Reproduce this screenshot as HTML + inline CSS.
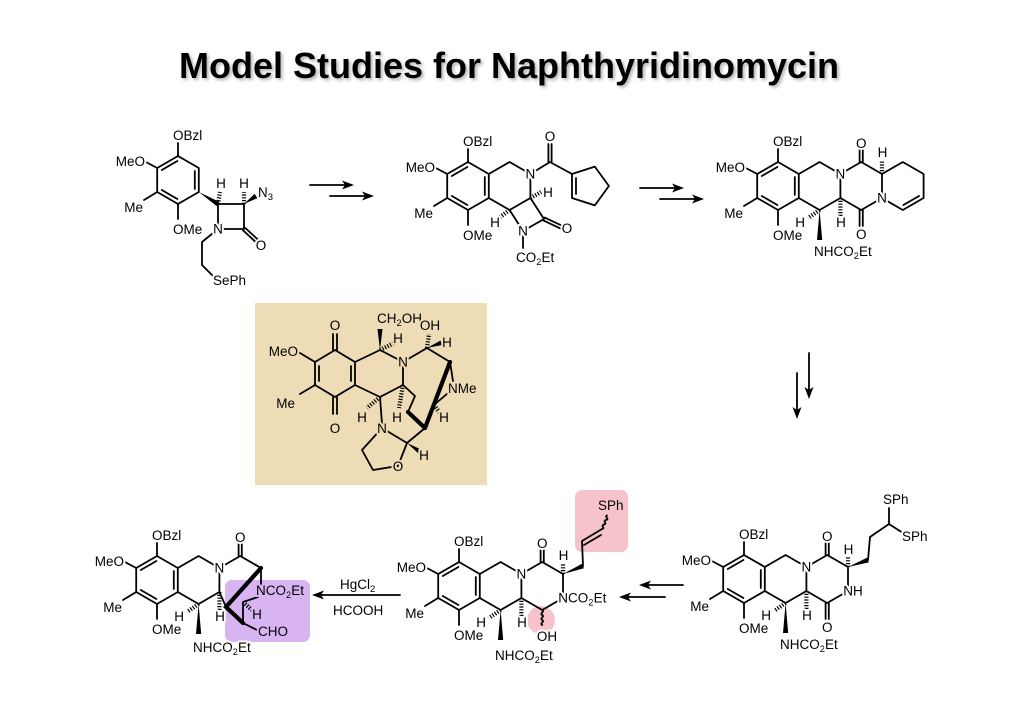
<!DOCTYPE html>
<html><head><meta charset="utf-8">
<style>
html,body{margin:0;padding:0;background:#fff;}
svg{display:block;}
.b{stroke:#000;stroke-width:1.8;fill:none;stroke-linecap:round;stroke-linejoin:round}
.k{stroke:#000;stroke-width:4.2;fill:none;stroke-linecap:round}
.h{stroke:#000;stroke-width:4.2;stroke-dasharray:1.2 1.6;fill:none}
.w{fill:#000;stroke:none}
text{font-family:"Liberation Sans",Arial,sans-serif;font-size:13.5px;fill:#000}
.t{stroke:#fff;stroke-width:4;paint-order:stroke;stroke-linejoin:round}
.tb{stroke:#eedcb6;stroke-width:4;paint-order:stroke;stroke-linejoin:round}
.tv{stroke:#d8b4f2;stroke-width:4;paint-order:stroke;stroke-linejoin:round}
.title{font-size:36px;font-weight:bold;}
</style></head>
<body>
<svg width="1024" height="724" viewBox="0 0 1024 724" xmlns="http://www.w3.org/2000/svg">
<defs>
<filter id="sh" x="-5%" y="-20%" width="110%" height="150%"><feDropShadow dx="2" dy="2" stdDeviation="1.5" flood-color="#000" flood-opacity="0.3"/></filter>
</defs>
<rect width="1024" height="724" fill="#fff"/>
<text class="title" x="509" y="78" text-anchor="middle" filter="url(#sh)">Model Studies for Naphthyridinomycin</text>

<!-- ===== Molecule 1 ===== -->
<g transform="translate(178,156)">
<path class="b" d="M0,0 L20.8,12 L20.8,36 L0,48 L-20.8,36 L-20.8,12 Z"/>
<path class="b" d="M-0.6,5 L-16.2,14 M16.8,15 L16.8,33 M-16.2,34 L-0.6,43"/>
<path class="b" d="M0,0 L0,-13 M-20.8,12 L-34,5 M-20.8,36 L-34,44 M0,48 L0,63"/>
<text class="t" x="-5" y="-16">OBzl</text>
<text class="t" x="-33" y="10" text-anchor="end">MeO</text>
<text class="t" x="-35" y="56" text-anchor="end">Me</text>
<text class="t" x="-5" y="78">OMe</text>
</g>
<polygon class="w" points="198.8,192 219.3,201.9 216.7,206.1"/>
<path class="b" d="M218,204 L244,204 L244,229 L218,229 Z"/>
<path class="b" d="M242.9,230.2 L255.9,242.2 M245.1,227.8 L258.1,239.8"/>
<path class="h" d="M218,204 L220,192 M244,204 L244,192"/>
<polygon class="w" points="244,204 257.4,198.1 254.6,193.9"/>
<path class="b" d="M218,229 L202,242 L202,265 L213,276"/>
<text class="t" x="218" y="233.5" text-anchor="middle">N</text>
<text class="t" x="261" y="250" text-anchor="middle">O</text>
<text class="t" x="221" y="188" text-anchor="middle">H</text>
<text class="t" x="244" y="188" text-anchor="middle">H</text>
<text class="t" x="258" y="197">N<tspan font-size="9.5" dy="3">3</tspan></text>
<text class="t" x="213" y="285">SePh</text>

<!-- arrows top -->
<g>
<path class="b" d="M310,185 L345,185 M330,196 L365,196 M640,188 L675,188 M660,199 L695,199"/>
<polygon class="w" points="354,185 342,180.5 345,185 342,189.5"/>
<polygon class="w" points="374,196 362,191.5 365,196 362,200.5"/>
<polygon class="w" points="684,188 672,183.5 675,188 672,192.5"/>
<polygon class="w" points="704,199 692,194.5 695,199 692,203.5"/>
</g>

<!-- ===== Molecule 2 ===== -->
<g transform="translate(468,162)">
<path class="b" d="M0,0 L20.8,12 L20.8,36 L0,48 L-20.8,36 L-20.8,12 Z"/>
<path class="b" d="M-0.6,5 L-16.2,14 M16.8,15 L16.8,33 M-16.2,34 L-0.6,43"/>
<path class="b" d="M0,0 L0,-13 M-20.8,12 L-34,5 M-20.8,36 L-34,44 M0,48 L0,63"/>
<path class="b" d="M20.8,12 L41.6,0 L62.4,12 L62.4,36 L41.6,48 L20.8,36"/>
<text class="t" x="-5" y="-16">OBzl</text>
<text class="t" x="-33" y="10" text-anchor="end">MeO</text>
<text class="t" x="-35" y="56" text-anchor="end">Me</text>
<text class="t" x="-5" y="78">OMe</text>
</g>
<path class="b" d="M530.4,198 L544,219 L523,231 L509.6,210"/>
<path class="b" d="M543.3,220.4 L560.3,228.4 M544.7,217.6 L561.7,225.6"/>
<path class="h" d="M530.4,198 L541,192 M509.6,210 L500,217"/>
<path class="b" d="M523,231 L523,248"/>
<path class="b" d="M530.4,174 L550,162 L572,174 M548.4,162 L548.4,144 M551.6,162 L551.6,144"/>
<path class="b" d="M572,174 L572,198 L594.8,205.4 L608.9,186 L594.8,166.6 Z M576,178 L576,194"/>
<text class="t" x="530.4" y="178.5" text-anchor="middle">N</text>
<text class="t" x="523" y="235.5" text-anchor="middle">N</text>
<text class="t" x="567" y="233" text-anchor="middle">O</text>
<text class="t" x="550" y="141" text-anchor="middle">O</text>
<text class="t" x="548" y="197" text-anchor="middle">H</text>
<text class="t" x="495" y="227" text-anchor="middle">H</text>
<text class="t" x="516" y="262">CO<tspan font-size="9.5" dy="3">2</tspan><tspan dy="-3">Et</tspan></text>

<!-- ===== Molecule 3 ===== -->
<g transform="translate(778,162)">
<path class="b" d="M0,0 L20.8,12 L20.8,36 L0,48 L-20.8,36 L-20.8,12 Z"/>
<path class="b" d="M-0.6,5 L-16.2,14 M16.8,15 L16.8,33 M-16.2,34 L-0.6,43"/>
<path class="b" d="M0,0 L0,-13 M-20.8,12 L-34,5 M-20.8,36 L-34,44 M0,48 L0,63"/>
<path class="b" d="M20.8,12 L41.6,0 L62.4,12 L62.4,36 L41.6,48 L20.8,36"/>
<path class="b" d="M62.4,12 L83.2,0 L104,12 L104,36 L83.2,48 L62.4,36"/>
<path class="b" d="M81.6,0 L81.6,-16 M84.8,0 L84.8,-16 M81.6,48 L81.6,64 M84.8,48 L84.8,64"/>
<path class="b" d="M104,12 L124.8,0 L145.6,12 L145.6,36 L124.8,48 L104,36 M141,34 L125.4,43"/>
<path class="h" d="M62.4,36 L62.4,54 M41.6,48 L30,56 M104,12 L104,-2"/>
<polygon class="w" points="41.6,48 39,78 44.2,78"/>
<text class="t" x="-5" y="-16">OBzl</text>
<text class="t" x="-33" y="10" text-anchor="end">MeO</text>
<text class="t" x="-35" y="56" text-anchor="end">Me</text>
<text class="t" x="-5" y="78">OMe</text>
<text class="t" x="62.4" y="16.5" text-anchor="middle">N</text>
<text class="t" x="104" y="40.5" text-anchor="middle">N</text>
<text class="t" x="83.2" y="-14" text-anchor="middle">O</text>
<text class="t" x="83.2" y="77" text-anchor="middle">O</text>
<text class="t" x="104.5" y="-5" text-anchor="middle">H</text>
<text class="t" x="63" y="65" text-anchor="middle">H</text>
<text class="t" x="27" y="65" text-anchor="end">H</text>
<text class="t" x="36" y="94">NHCO<tspan font-size="9.5" dy="3">2</tspan><tspan dy="-3">Et</tspan></text>
</g>

<!-- down arrows -->
<path class="b" d="M809,353 L809,390 M797,373 L797,410"/>
<polygon class="w" points="809,399 804.5,387 809,390 813.5,387"/>
<polygon class="w" points="797,419 792.5,407 797,410 801.5,407"/>

<!-- ===== Natural product box ===== -->
<rect x="255" y="303" width="232" height="182" fill="#eedcb6"/>
<g>
<path class="b" d="M335,350 L355,362 L355,385 L335,397 L315,385 L315,362 Z M319,366 L319,381 M351,366 L351,381"/>
<path class="b" d="M333,350 L333,334 M337,350 L337,334 M333,397 L333,414 M337,397 L337,414"/>
<path class="b" d="M315,362 L300,353 M315,385 L300,394"/>
<path class="b" d="M355,362 L380,350 L403,362 L403,385 L380,397 L355,385"/>
<polygon class="w" points="380,350 377.5,329 382.5,329"/>
<path class="h" d="M380,350 L394,343"/>
<path class="b" d="M403,362 L427,348 L450,362 L453,381"/>
<path class="h" d="M427,348 L429,334"/>
<polygon class="w" points="427,348 440.5,340.5 442,345"/>
<path class="k" d="M450,362 L425,428 M408,412 L425,428"/>
<path class="b" d="M403,385 L415,396 L408,412 M448,393 L434,405 L425,428"/>
<path class="h" d="M434,405 L440,413 M380,397 L367,408 M403,385 L399,408"/>
<path class="b" d="M380,397 L382,424 M382,428 L407,443 L398,466 M398,466 L373,470 L362,450 L382,428 M407,443 L425,428"/>
<polygon class="w" points="407,443 418.5,453.5 421,449.5"/>
<text class="tb" x="335" y="330" text-anchor="middle">O</text>
<text class="tb" x="335" y="433" text-anchor="middle">O</text>
<text class="tb" x="298" y="356" text-anchor="end">MeO</text>
<text class="tb" x="295" y="408" text-anchor="end">Me</text>
<text class="tb" x="377" y="323">CH<tspan font-size="9.5" dy="3">2</tspan><tspan dy="-3">OH</tspan></text>
<text class="tb" x="398" y="343" text-anchor="middle">H</text>
<text class="tb" x="403" y="366.5" text-anchor="middle">N</text>
<text class="tb" x="430" y="330" text-anchor="middle">OH</text>
<text class="tb" x="447" y="347" text-anchor="middle">H</text>
<text class="tb" x="448" y="393">NMe</text>
<text class="tb" x="444" y="422" text-anchor="middle">H</text>
<text class="tb" x="397" y="422" text-anchor="middle">H</text>
<text class="tb" x="362" y="422" text-anchor="middle">H</text>
<text class="tb" x="382" y="433" text-anchor="middle">N</text>
<text class="tb" x="398" y="471" text-anchor="middle">O</text>
<text class="tb" x="424" y="460" text-anchor="middle">H</text>
</g>

<!-- ===== Molecule 6 (bottom right) ===== -->
<g transform="translate(744,555)">
<path class="b" d="M0,0 L20.8,12 L20.8,36 L0,48 L-20.8,36 L-20.8,12 Z"/>
<path class="b" d="M-0.6,5 L-16.2,14 M16.8,15 L16.8,33 M-16.2,34 L-0.6,43"/>
<path class="b" d="M0,0 L0,-13 M-20.8,12 L-34,5 M-20.8,36 L-34,44 M0,48 L0,63"/>
<path class="b" d="M20.8,12 L41.6,0 L62.4,12 L62.4,36 L41.6,48 L20.8,36"/>
<path class="b" d="M62.4,12 L83.2,0 L104,12 L104,36 L83.2,48 L62.4,36"/>
<path class="b" d="M81.6,0 L81.6,-16 M84.8,0 L84.8,-16 M81.6,48 L81.6,64 M84.8,48 L84.8,64"/>
<path class="h" d="M62.4,36 L62.4,54 M41.6,48 L30,56 M104,12 L104,2"/>
<polygon class="w" points="41.6,48 39,78 44.2,78"/>
<polygon class="w" points="104,12 124.8,7.4 123.2,2.6"/>
<path class="b" d="M124,5 L126,-18 L145,-31 M145,-31 L145,-47 M145,-31 L159,-22"/>
<text class="t" x="-5" y="-16">OBzl</text>
<text class="t" x="-33" y="10" text-anchor="end">MeO</text>
<text class="t" x="-35" y="56" text-anchor="end">Me</text>
<text class="t" x="-5" y="78">OMe</text>
<text class="t" x="62.4" y="16.5" text-anchor="middle">N</text>
<text class="t" x="99.3" y="40.5">NH</text>
<text class="t" x="83.2" y="-14" text-anchor="middle">O</text>
<text class="t" x="83.2" y="77" text-anchor="middle">O</text>
<text class="t" x="104.5" y="-1" text-anchor="middle">H</text>
<text class="t" x="63" y="65" text-anchor="middle">H</text>
<text class="t" x="27" y="65" text-anchor="end">H</text>
<text class="t" x="36" y="94">NHCO<tspan font-size="9.5" dy="3">2</tspan><tspan dy="-3">Et</tspan></text>
<text class="t" x="139" y="-51">SPh</text>
<text class="t" x="158" y="-14">SPh</text>
</g>

<!-- left arrows -->
<path class="b" d="M683,585 L648,585 M665,597 L628,597"/>
<polygon class="w" points="639,585 651,580.5 648,585 651,589.5"/>
<polygon class="w" points="619,597 631,592.5 628,597 631,601.5"/>

<!-- ===== Molecule 5 (bottom middle) ===== -->
<rect x="575" y="490" width="53" height="62" rx="7" fill="#f6c3cb"/>
<circle cx="541" cy="620" r="14" fill="#f6c3cb"/>
<g transform="translate(459,562)">
<path class="b" d="M0,0 L20.8,12 L20.8,36 L0,48 L-20.8,36 L-20.8,12 Z"/>
<path class="b" d="M-0.6,5 L-16.2,14 M16.8,15 L16.8,33 M-16.2,34 L-0.6,43"/>
<path class="b" d="M0,0 L0,-13 M-20.8,12 L-34,5 M-20.8,36 L-34,44 M0,48 L0,63"/>
<path class="b" d="M20.8,12 L41.6,0 L62.4,12 L62.4,36 L41.6,48 L20.8,36"/>
<path class="b" d="M62.4,12 L83.2,0 L104,12 L104,36 L83.2,48 L62.4,36"/>
<path class="b" d="M81.6,0 L81.6,-16 M84.8,0 L84.8,-16"/>
<path class="b" d="M83.2,48 c3,2 -3,3 0,5 c3,2 -3,3 0,5 c3,2 -3,3 0,5"/>
<path class="h" d="M62.4,36 L62.4,54 M41.6,48 L30,56 M104,12 L104,2"/>
<polygon class="w" points="41.6,48 39,78 44.2,78"/>
<polygon class="w" points="104,12 124.9,6.3 123.1,1.7"/>
<path class="b" d="M124,4 L123,-21 L143,-33 M125,-17 L142,-27"/>
<path class="b" d="M143,-33 c4,-1 -2,-3 2,-4.5 c4,-1 -2,-3 2,-4.5 c4,-1 -2,-3 1,-4.5"/>
<text class="t" x="-5" y="-16">OBzl</text>
<text class="t" x="-33" y="10" text-anchor="end">MeO</text>
<text class="t" x="-35" y="56" text-anchor="end">Me</text>
<text class="t" x="-5" y="78">OMe</text>
<text class="t" x="62.4" y="16.5" text-anchor="middle">N</text>
<text class="t" x="99.3" y="40.5">NCO<tspan font-size="9.5" dy="3">2</tspan><tspan dy="-3">Et</tspan></text>
<text class="t" x="83.2" y="-14" text-anchor="middle">O</text>
<text class="t" x="88" y="79" text-anchor="middle">OH</text>
<text class="t" x="104.5" y="-2" text-anchor="middle">H</text>
<text class="t" x="63" y="65" text-anchor="middle">H</text>
<text class="t" x="27" y="65" text-anchor="end">H</text>
<text class="t" x="36" y="98">NHCO<tspan font-size="9.5" dy="3">2</tspan><tspan dy="-3">Et</tspan></text>
</g>
<text x="598" y="510">SPh</text>

<!-- HgCl2 arrow -->
<path class="b" d="M400,595 L321,595"/>
<polygon class="w" points="312,595 324,590.5 321,595 324,599.5"/>
<text x="340" y="589">HgCl<tspan font-size="9.5" dy="3">2</tspan></text>
<text x="333" y="615">HCOOH</text>

<!-- ===== Molecule 4 (bottom left) ===== -->
<rect x="225" y="580" width="85" height="62" rx="7" fill="#d8b4f2"/>
<g transform="translate(157,556)">
<path class="b" d="M0,0 L20.8,12 L20.8,36 L0,48 L-20.8,36 L-20.8,12 Z"/>
<path class="b" d="M-0.6,5 L-16.2,14 M16.8,15 L16.8,33 M-16.2,34 L-0.6,43"/>
<path class="b" d="M0,0 L0,-13 M-20.8,12 L-34,5 M-20.8,36 L-34,44 M0,48 L0,63"/>
<path class="b" d="M20.8,12 L41.6,0 L62.4,12 L62.4,36 L41.6,48 L20.8,36"/>
<path class="b" d="M62.4,12 L83.2,0 L104,12 M81.6,0 L81.6,-16 M84.8,0 L84.8,-16"/>
<path class="h" d="M62.4,36 L62.4,54 M41.6,48 L30,56"/>
<polygon class="w" points="41.6,48 39,78 44.2,78"/>
<text class="t" x="-5" y="-16">OBzl</text>
<text class="t" x="-33" y="10" text-anchor="end">MeO</text>
<text class="t" x="-35" y="56" text-anchor="end">Me</text>
<text class="t" x="-5" y="78">OMe</text>
<text class="t" x="62.4" y="16.5" text-anchor="middle">N</text>
<text class="t" x="83.2" y="-14" text-anchor="middle">O</text>
<text class="t" x="63" y="65" text-anchor="middle">H</text>
<text class="t" x="27" y="65" text-anchor="end">H</text>
<text class="t" x="36" y="96">NHCO<tspan font-size="9.5" dy="3">2</tspan><tspan dy="-3">Et</tspan></text>
</g>
<path class="b" d="M219.4,592 L226,607 M261,568 L261,584 M258,597 L243,602 L243,623 L257,630"/>
<path class="k" d="M261,568 L226,607 L243,623"/>
<path class="h" d="M243,602 L252,610"/>
<text class="tv" x="256" y="595">NCO<tspan font-size="9.5" dy="3">2</tspan><tspan dy="-3">Et</tspan></text>
<text class="tv" x="257" y="619" text-anchor="middle">H</text>
<text class="tv" x="258" y="636">CHO</text>
</svg>
</body></html>
